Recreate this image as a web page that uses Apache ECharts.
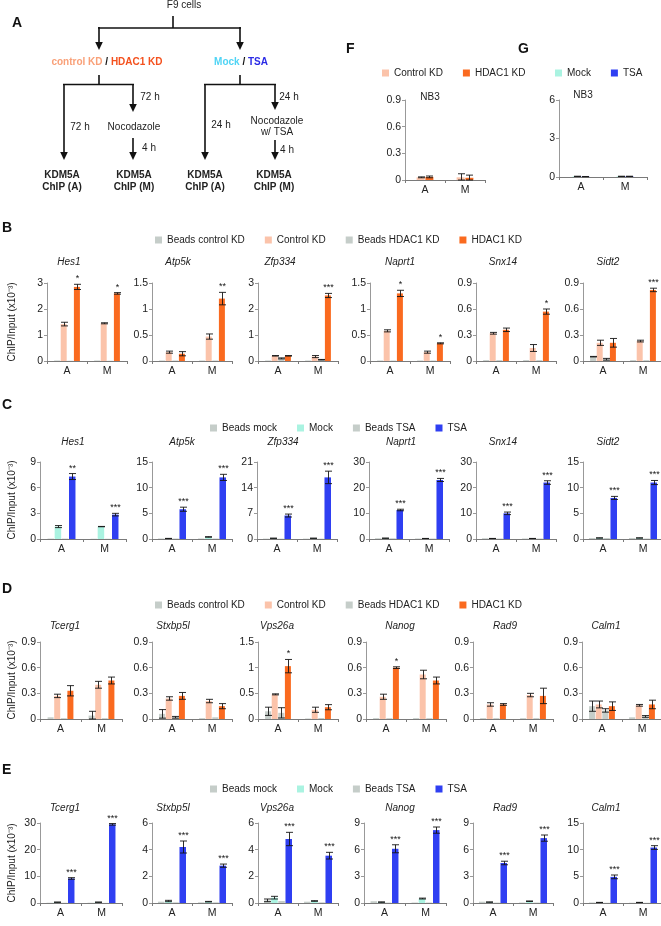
<!DOCTYPE html>
<html><head><meta charset="utf-8">
<script src="https://cdn.jsdelivr.net/npm/echarts@6/dist/echarts.min.js"></script>
<style>html,body{margin:0;padding:0;background:#fff}#c{width:661px;height:926px}</style>
</head><body><div id="c"></div><script>
// ---------------- DATA ----------------
const categories = ['A', 'M'];

// Panel B (KD, HDAC1-regulated genes)
const B_genes = ['Hes1', 'Atp5k', 'Zfp334', 'Naprt1', 'Snx14', 'Sidt2'];
const B_yMax = [3, 1.5, 3, 1.5, 0.9, 0.9];
const B_yStep = [1, 0.5, 1, 0.5, 0.3, 0.3];
const B_beadsCtrl = [[0.02, 0.02], [0.01, 0.01], [0.02, 0.02], [0.01, 0.01], [0.01, 0.01], [0.05, 0.01]];
const B_beadsCtrlErr = [[0, 0], [0, 0], [0, 0], [0, 0], [0, 0], [0.003, 0]];
const B_ctrl = [[1.42, 1.45], [0.17, 0.47], [0.2, 0.17], [0.58, 0.17], [0.32, 0.15], [0.21, 0.23]];
const B_ctrlErr = [[0.07, 0.02], [0.02, 0.05], [0.01, 0.04], [0.02, 0.02], [0.01, 0.04], [0.03, 0.01]];
const B_beadsHdac = [[0.01, 0.01], [0.01, 0.01], [0.1, 0.05], [0.01, 0.01], [0.01, 0.01], [0.02, 0.01]];
const B_beadsHdacErr = [[0, 0], [0, 0], [0.02, 0.01], [0, 0], [0, 0], [0.01, 0]];
const B_hdac = [[2.85, 2.6], [0.14, 1.2], [0.2, 2.52], [1.3, 0.34], [0.36, 0.57], [0.21, 0.82]];
const B_hdacErr = [[0.1, 0.03], [0.04, 0.12], [0.01, 0.08], [0.06, 0.01], [0.02, 0.03], [0.05, 0.02]];
const B_stars = [['*', '*'], ['', '**'], ['', '***'], ['*', '*'], ['', '*'], ['', '***']];

// Panel C (TSA, same genes)
const C_genes = ['Hes1', 'Atp5k', 'Zfp334', 'Naprt1', 'Snx14', 'Sidt2'];
const C_yMax = [9, 15, 21, 30, 30, 15];
const C_yStep = [3, 5, 7, 10, 10, 5];
const C_beadsMock = [[0.05, 0.03], [0.1, 0.1], [0.1, 0.1], [0.3, 0.2], [0.3, 0.2], [0.2, 0.2]];
const C_beadsMockErr = [[0, 0], [0, 0], [0, 0], [0, 0], [0, 0], [0, 0]];
const C_mock = [[1.45, 1.45], [0.1, 0.4], [0.2, 0.2], [0.3, 0.2], [0.2, 0.2], [0.2, 0.2]];
const C_mockErr = [[0.12, 0.02], [0.02, 0.05], [0.02, 0.02], [0.05, 0.02], [0.02, 0.02], [0.02, 0.02]];
const C_beadsTsa = [[0.05, 0.03], [0.1, 0.1], [0.1, 0.1], [0.3, 0.2], [0.2, 0.2], [0.2, 0.1]];
const C_beadsTsaErr = [[0, 0], [0, 0], [0, 0], [0, 0], [0, 0], [0, 0]];
const C_tsa = [[7.3, 2.85], [5.8, 12], [6.4, 16.8], [11.3, 23], [10, 22], [8, 11]];
const C_tsaErr = [[0.35, 0.15], [0.4, 0.6], [0.4, 1.7], [0.3, 0.6], [0.5, 0.7], [0.3, 0.4]];
const C_stars = [['**', '***'], ['***', '***'], ['***', '***'], ['***', '***'], ['***', '***'], ['***', '***']];

// Panel D (KD, other genes)
const D_genes = ['Tcerg1', 'Stxbp5l', 'Vps26a', 'Nanog', 'Rad9', 'Calm1'];
const D_yMax = [0.9, 0.9, 1.5, 0.9, 0.9, 0.9];
const D_yStep = [0.3, 0.3, 0.5, 0.3, 0.3, 0.3];
const D_beadsCtrl = [[0.02, 0.04], [0.06, 0.01], [0.15, 0.01], [0.01, 0.01], [0.01, 0.01], [0.15, 0.02]];
const D_beadsCtrlErr = [[0, 0.05], [0.05, 0], [0.08, 0], [0, 0], [0, 0], [0.06, 0]];
const D_ctrl = [[0.27, 0.4], [0.24, 0.21], [0.48, 0.18], [0.26, 0.52], [0.17, 0.28], [0.17, 0.16]];
const D_ctrlErr = [[0.02, 0.04], [0.02, 0.02], [0.01, 0.05], [0.03, 0.05], [0.02, 0.02], [0.04, 0.01]];
const D_beadsHdac = [[0.01, 0.01], [0.02, 0.02], [0.12, 0.02], [0.01, 0.01], [0.01, 0.01], [0.1, 0.03]];
const D_beadsHdacErr = [[0, 0], [0.01, 0], [0.1, 0], [0, 0], [0, 0], [0.02, 0.01]];
const D_hdac = [[0.33, 0.45], [0.27, 0.15], [1.03, 0.23], [0.6, 0.45], [0.17, 0.27], [0.15, 0.17]];
const D_hdacErr = [[0.06, 0.04], [0.04, 0.03], [0.13, 0.05], [0.01, 0.04], [0.01, 0.09], [0.05, 0.05]];
const D_stars = [['', ''], ['', ''], ['*', ''], ['*', ''], ['', ''], ['', '']];

// Panel E (TSA, other genes)
const E_genes = ['Tcerg1', 'Stxbp5l', 'Vps26a', 'Nanog', 'Rad9', 'Calm1'];
const E_yMax = [30, 6, 6, 9, 9, 15];
const E_yStep = [10, 2, 2, 3, 3, 5];
const E_beadsMock = [[0.1, 0.1], [0.1, 0.05], [0.2, 0.1], [0.2, 0.05], [0.15, 0.05], [0.1, 0.05]];
const E_beadsMockErr = [[0, 0], [0, 0], [0.1, 0], [0, 0], [0, 0], [0, 0]];
const E_mock = [[0.3, 0.3], [0.15, 0.1], [0.4, 0.15], [0.1, 0.5], [0.1, 0.2], [0.1, 0.1]];
const E_mockErr = [[0.05, 0.05], [0.05, 0.02], [0.1, 0.02], [0.02, 0.05], [0.02, 0.03], [0.02, 0.02]];
const E_beadsTsa = [[0.1, 0.05], [0.05, 0.05], [0.15, 0.05], [0.05, 0.05], [0.05, 0.05], [0.05, 0.05]];
const E_beadsTsaErr = [[0, 0], [0, 0], [0, 0], [0, 0], [0, 0], [0, 0]];
const E_tsa = [[9.2, 29.5], [4.2, 2.8], [4.8, 3.55], [6.1, 8.2], [4.5, 7.3], [4.9, 10.4]];
const E_tsaErr = [[0.3, 0.3], [0.45, 0.12], [0.5, 0.25], [0.45, 0.35], [0.2, 0.35], [0.35, 0.35]];
const E_stars = [['***', '***'], ['***', '***'], ['***', '***'], ['***', '***'], ['***', '***'], ['***', '***']];

// Panels F, G (NB3)
const F_ctrl = [0.03, 0.03];
const F_ctrlErr = [0.005, 0.04];
const F_hdac = [0.035, 0.025];
const F_hdacErr = [0.01, 0.03];
const G_mock = [0.05, 0.05];
const G_mockErr = [0.01, 0.01];
const G_tsa = [0.03, 0.05];
const G_tsaErr = [0.01, 0.01];

// ---------------- STYLE / LAYOUT ----------------
const FONT = 'Liberation Sans';
const COL = { beads: '#c5cdc9', ctrl: '#fbc3aa', hdac: '#fa6a1f', mock: '#aaf3e1', tsa: '#2f3ff2' };
const AX = '#7a7a7a';

const LAYOUT = {
  B: { lefts: [47, 152, 258, 370, 476, 583], widths: [80, 80, 80, 80, 80, 80], top: 283, bottom: 361,
       titleX: [69, 178, 280, 400, 503, 608], titleY: 262, legendX: 155, legendY: 241, labelY: 322, letterY: 228 },
  C: { lefts: [40, 152, 257, 369, 476, 583], widths: [86, 80, 80, 80, 80, 80], top: 462, bottom: 539,
       titleX: [73, 182, 283, 401, 503, 608], titleY: 442, legendX: 210, legendY: 429, labelY: 500, letterY: 405 },
  D: { lefts: [40, 152, 258, 366, 473, 582], widths: [82, 80, 80, 80, 80, 80], top: 642, bottom: 719,
       titleX: [65, 173, 277, 400, 505, 606], titleY: 626, legendX: 155, legendY: 606, labelY: 680, letterY: 589 },
  E: { lefts: [40, 152, 258, 364, 473, 583], widths: [82, 80, 80, 82, 80, 80], top: 823, bottom: 903,
       titleX: [65, 173, 277, 400, 505, 606], titleY: 808, legendX: 210, legendY: 790, labelY: 863, letterY: 770 }
};

const grids = [], xAxes = [], yAxes = [], series = [], graphics = [], legends = [];

function txt(x, y, text, o) {
  o = o || {};
  const al = o.align || 'center', va = o.va || 'middle';
  const el = {
    type: 'text', x: x, y: y, rotation: o.rotation || 0, silent: true, z: 10,
    style: {
      text: text, fill: o.color || '#222', fontSize: o.size || 10, fontFamily: FONT,
      fontWeight: o.weight || 'normal', fontStyle: o.style || 'normal',
      align: al, textAlign: al, verticalAlign: va, textVerticalAlign: va
    }
  };
  if (o.rich) el.style.rich = o.rich;
  graphics.push(el);
}

function makeErr(off, errs, stars) {
  return function (params, api) {
    const i = params.dataIndex;
    const v = api.value(1);
    const e = errs[i] || 0;
    const c = api.coord([i, v]);
    const x = Math.round(c[0] + off) + 0.5;
    const children = [];
    const capW = 3.5;
    if (e > 0) {
      const yt = api.coord([i, v + e])[1];
      const yb = api.coord([i, Math.max(0, v - e)])[1];
      children.push({ type: 'line', shape: { x1: x, y1: yt, x2: x, y2: yb }, style: { stroke: '#151515', lineWidth: 0.9 } });
      children.push({ type: 'line', shape: { x1: x - capW, y1: yt, x2: x + capW, y2: yt }, style: { stroke: '#151515', lineWidth: 0.9 } });
      children.push({ type: 'line', shape: { x1: x - capW, y1: yb, x2: x + capW, y2: yb }, style: { stroke: '#151515', lineWidth: 0.9 } });
    }
    if (stars && stars[i]) {
      const yTop = api.coord([i, v + e])[1];
      children.push({ type: 'text', x: x, y: yTop - 1,
        style: { text: stars[i], fill: '#151515', fontSize: 9, fontFamily: FONT,
                 align: 'center', textAlign: 'center', verticalAlign: 'bottom', textVerticalAlign: 'bottom' } });
    }
    return { type: 'group', children: children };
  };
}

function addPanel(p) {
  const gi = grids.length;
  grids.push({ left: p.left, top: p.top, width: p.width, height: p.height, containLabel: false, outerBoundsMode: 'none' });
  xAxes.push({ type: 'category', gridIndex: gi, data: categories,
    axisLine: { show: true, lineStyle: { color: AX, width: 1 } },
    axisTick: { show: true, length: 3, alignWithLabel: false, lineStyle: { color: AX } },
    axisLabel: { fontSize: 10.5, color: '#222', margin: 5, fontFamily: FONT },
    splitLine: { show: false } });
  yAxes.push({ type: 'value', gridIndex: gi, min: 0, max: p.yMax, interval: p.yStep,
    axisLine: { show: true, lineStyle: { color: '#999', width: 1 } },
    axisTick: { show: true, length: 3, lineStyle: { color: '#999' } },
    axisLabel: { fontSize: 10.5, color: '#222', margin: 4, fontFamily: FONT, hideOverlap: false },
    splitLine: { show: false } });
  const n = p.defs.length, bw = p.bw, gap = bw * p.gapFrac;
  p.defs.forEach(function (d) {
    series.push({ type: 'bar', name: d.name, xAxisIndex: gi, yAxisIndex: gi, data: d.vals.slice(),
      barWidth: bw, barGap: (p.gapFrac * 100) + '%', itemStyle: { color: d.color }, silent: true, animation: false });
  });
  p.defs.forEach(function (d, i) {
    const off = (i - (n - 1) / 2) * (bw + gap);
    series.push({ type: 'custom', name: '_err', xAxisIndex: gi, yAxisIndex: gi,
      data: d.vals.map(function (v, k) { return [k, v]; }), encode: { x: 0, y: 1 },
      renderItem: makeErr(off, d.errs, d.stars), z: 5, silent: true, animation: false, clip: false });
  });
}

function addRow(key, genes, yMax, yStep, defsFn, bw) {
  const L = LAYOUT[key];
  genes.forEach(function (g, gi) {
    addPanel({ left: L.lefts[gi], top: L.top, width: L.widths[gi], height: L.bottom - L.top,
      yMax: yMax[gi], yStep: yStep[gi], defs: defsFn(gi), bw: bw, gapFrac: 0.1 });
    txt(L.titleX[gi], L.titleY, g, { style: 'italic', size: 10 });
  });
  txt(12, L.labelY, 'ChIP/Input (x10\u207B\u00B3)', { rotation: Math.PI / 2, size: 10 });
  txt(2, L.letterY, key, { align: 'left', weight: 'bold', size: 14, color: '#111' });
}

// Row B
addRow('B', B_genes, B_yMax, B_yStep, function (i) {
  return [
    { name: 'Beads control KD', color: COL.beads, vals: B_beadsCtrl[i], errs: B_beadsCtrlErr[i] },
    { name: 'Control KD', color: COL.ctrl, vals: B_ctrl[i], errs: B_ctrlErr[i] },
    { name: 'Beads HDAC1 KD', color: COL.beads, vals: B_beadsHdac[i], errs: B_beadsHdacErr[i] },
    { name: 'HDAC1 KD', color: COL.hdac, vals: B_hdac[i], errs: B_hdacErr[i], stars: B_stars[i] }
  ];
}, 6);
// Row C
addRow('C', C_genes, C_yMax, C_yStep, function (i) {
  return [
    { name: 'Beads mock', color: COL.beads, vals: C_beadsMock[i], errs: C_beadsMockErr[i] },
    { name: 'Mock', color: COL.mock, vals: C_mock[i], errs: C_mockErr[i] },
    { name: 'Beads TSA', color: COL.beads, vals: C_beadsTsa[i], errs: C_beadsTsaErr[i] },
    { name: 'TSA', color: COL.tsa, vals: C_tsa[i], errs: C_tsaErr[i], stars: C_stars[i] }
  ];
}, 6.5);
// Row D
addRow('D', D_genes, D_yMax, D_yStep, function (i) {
  return [
    { name: 'Beads control KD', color: COL.beads, vals: D_beadsCtrl[i], errs: D_beadsCtrlErr[i] },
    { name: 'Control KD', color: COL.ctrl, vals: D_ctrl[i], errs: D_ctrlErr[i] },
    { name: 'Beads HDAC1 KD', color: COL.beads, vals: D_beadsHdac[i], errs: D_beadsHdacErr[i] },
    { name: 'HDAC1 KD', color: COL.hdac, vals: D_hdac[i], errs: D_hdacErr[i], stars: D_stars[i] }
  ];
}, 6);
// Row E
addRow('E', E_genes, E_yMax, E_yStep, function (i) {
  return [
    { name: 'Beads mock', color: COL.beads, vals: E_beadsMock[i], errs: E_beadsMockErr[i] },
    { name: 'Mock', color: COL.mock, vals: E_mock[i], errs: E_mockErr[i] },
    { name: 'Beads TSA', color: COL.beads, vals: E_beadsTsa[i], errs: E_beadsTsaErr[i] },
    { name: 'TSA', color: COL.tsa, vals: E_tsa[i], errs: E_tsaErr[i], stars: E_stars[i] }
  ];
}, 6.5);

// Panel F
addPanel({ left: 405, top: 100, width: 80, height: 80, yMax: 0.9, yStep: 0.3, bw: 8, gapFrac: 0.1,
  defs: [{ name: 'Control KD', color: COL.ctrl, vals: F_ctrl, errs: F_ctrlErr },
         { name: 'HDAC1 KD', color: COL.hdac, vals: F_hdac, errs: F_hdacErr }] });
txt(430, 97, 'NB3', { size: 10 });
txt(346, 49, 'F', { align: 'left', weight: 'bold', size: 14, color: '#111' });
// Panel G
addPanel({ left: 559, top: 100, width: 88, height: 77, yMax: 6, yStep: 3, bw: 8, gapFrac: 0.1,
  defs: [{ name: 'Mock', color: COL.mock, vals: G_mock, errs: G_mockErr },
         { name: 'TSA', color: COL.tsa, vals: G_tsa, errs: G_tsaErr }] });
txt(583, 95, 'NB3', { size: 10 });
txt(518, 49, 'G', { align: 'left', weight: 'bold', size: 14, color: '#111' });

// Legends
function addLegend(names, x, yc) {
  legends.push({ data: names, left: x, top: yc - 6, orient: 'horizontal', icon: 'rect', itemWidth: 7, itemHeight: 7,
    itemGap: 20, padding: 0, selectedMode: false,
    textStyle: { fontSize: 10, color: '#222', fontFamily: FONT } });
}
addLegend(['Beads control KD', 'Control KD', 'Beads HDAC1 KD', 'HDAC1 KD'], LAYOUT.B.legendX, LAYOUT.B.legendY);
addLegend(['Beads mock', 'Mock', 'Beads TSA', 'TSA'], LAYOUT.C.legendX, LAYOUT.C.legendY);
addLegend(['Beads control KD', 'Control KD', 'Beads HDAC1 KD', 'HDAC1 KD'], LAYOUT.D.legendX, LAYOUT.D.legendY);
addLegend(['Beads mock', 'Mock', 'Beads TSA', 'TSA'], LAYOUT.E.legendX, LAYOUT.E.legendY);
addLegend(['Control KD', 'HDAC1 KD'], 382, 74);
addLegend(['Mock', 'TSA'], 555, 74);

// ---------------- Panel A (schematic) ----------------
const LC = '#111';
function seg(x1, y1, x2, y2) {
  graphics.push({ type: 'line', silent: true, shape: { x1: x1, y1: y1, x2: x2, y2: y2 }, style: { stroke: LC, lineWidth: 1.6 } });
}
function arrow(x, y1, y2) {
  seg(x, y1, x, y2 - 6);
  graphics.push({ type: 'polygon', silent: true, shape: { points: [[x - 3.8, y2 - 8], [x + 3.8, y2 - 8], [x, y2]] }, style: { fill: LC } });
}
txt(12, 23, 'A', { align: 'left', weight: 'bold', size: 14, color: '#111' });
txt(184, 5, 'F9 cells', { size: 10 });
seg(173, 16, 173, 28);
seg(98, 28, 241, 28);
arrow(99, 27, 50);
arrow(240, 27, 50);
txt(107, 62, '{a|control KD}{s| / }{b|HDAC1 KD}', { weight: 'bold', size: 10,
  rich: { a: { fill: '#f9a078', fontWeight: 'bold', fontSize: 10, fontFamily: FONT },
          s: { fill: '#111', fontWeight: 'bold', fontSize: 10, fontFamily: FONT },
          b: { fill: '#f4511e', fontWeight: 'bold', fontSize: 10, fontFamily: FONT } } });
txt(241, 62, '{a|Mock}{s| / }{b|TSA}', { weight: 'bold', size: 10,
  rich: { a: { fill: '#4fd4f5', fontWeight: 'bold', fontSize: 10, fontFamily: FONT },
          s: { fill: '#111', fontWeight: 'bold', fontSize: 10, fontFamily: FONT },
          b: { fill: '#2b2be6', fontWeight: 'bold', fontSize: 10, fontFamily: FONT } } });
// left tree
seg(99, 75, 99, 85);
seg(63, 84.5, 134, 84.5);
arrow(64, 84, 160);
arrow(133, 84, 112);
txt(80, 127, '72 h');
txt(150, 97, '72 h');
txt(134, 127, 'Nocodazole');
arrow(133, 138, 160);
txt(149, 148, '4 h');
txt(62, 175, 'KDM5A', { weight: 'bold' });
txt(62, 187, 'ChIP (A)', { weight: 'bold' });
txt(134, 175, 'KDM5A', { weight: 'bold' });
txt(134, 187, 'ChIP (M)', { weight: 'bold' });
// right tree
seg(240, 75, 240, 85);
seg(204, 84.5, 276, 84.5);
arrow(205, 84, 160);
arrow(275, 84, 110);
txt(221, 125, '24 h');
txt(289, 97, '24 h');
txt(277, 121, 'Nocodazole');
txt(277, 132, 'w/ TSA');
arrow(275, 140, 160);
txt(287, 150, '4 h');
txt(205, 175, 'KDM5A', { weight: 'bold' });
txt(205, 187, 'ChIP (A)', { weight: 'bold' });
txt(274, 175, 'KDM5A', { weight: 'bold' });
txt(274, 187, 'ChIP (M)', { weight: 'bold' });

// ---------------- RENDER ----------------
const chart = echarts.init(document.getElementById('c'), null, { renderer: 'canvas', width: 661, height: 926 });
chart.setOption({
  animation: false,
  backgroundColor: '#ffffff',
  textStyle: { fontFamily: FONT },
  grid: grids, xAxis: xAxes, yAxis: yAxes, series: series,
  legend: legends,
  graphic: { elements: graphics }
});
</script></body></html>
